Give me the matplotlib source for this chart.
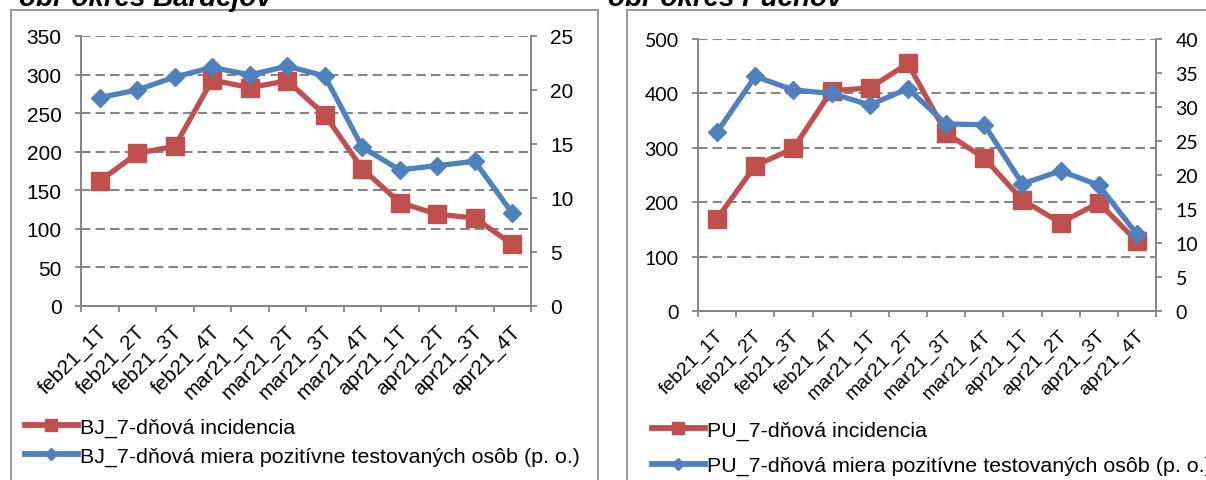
import matplotlib
matplotlib.use("Agg")
import matplotlib.pyplot as plt
import matplotlib.transforms as mtransforms
from matplotlib.lines import Line2D
from matplotlib.patches import Rectangle

plt.rcParams.update({
    "font.family": ["Liberation Sans", "DejaVu Sans"],
    "figure.facecolor": "white",
    "axes.facecolor": "white",
})

RED = "#C0504D"
BLUE = "#4F81BD"
GREY = "#868686"

weeks = ["feb21_1T", "feb21_2T", "feb21_3T", "feb21_4T",
         "mar21_1T", "mar21_2T", "mar21_3T", "mar21_4T",
         "apr21_1T", "apr21_2T", "apr21_3T", "apr21_4T"]

# okres Bardejov
bj_incidence = [162, 198, 207, 293, 283, 292, 248, 178, 134, 119, 114, 80]
bj_positivity = [19.3, 20.0, 21.2, 22.1, 21.4, 22.2, 21.3, 14.7, 12.6, 13.0, 13.4, 8.6]

# okres Púchov
pu_incidence = [170, 267, 299, 405, 410, 455, 327, 281, 204, 162, 199, 128]
pu_positivity = [26.3, 34.5, 32.5, 32.0, 30.3, 32.7, 27.5, 27.4, 18.7, 20.6, 18.5, 11.3]

W, H = 1206, 481


def px_rect(x0, y0, x1, y1):
    """Axes rectangle from pixel corners (top-left origin)."""
    return [x0 / W, 1 - y1 / H, (x1 - x0) / W, (y1 - y0) / H]


def draw_panel(fig, rect, incidence, positivity, left_max, left_step,
               right_max, right_step, xfont, yfont, yfamily, label_shift):
    ax = fig.add_axes(rect)
    ax2 = ax.twinx()
    x = range(len(weeks))

    ax.plot(x, incidence, color=RED, lw=3.8, marker="s", markersize=13.5,
            zorder=3)
    ax2.plot(x, positivity, color=BLUE, lw=3.8, marker="D", markersize=9.5,
             zorder=3)

    ax.set_xlim(-0.5, len(weeks) - 0.5)
    ax.set_ylim(0, left_max)
    ax2.set_ylim(0, right_max)
    ax.set_yticks(range(0, left_max + 1, left_step))
    ax2.set_yticks(range(0, right_max + 1, right_step))

    # dashed gridlines for the primary axis, skipping the baseline
    for v in range(left_step, left_max + 1, left_step):
        ax.axhline(v, color=GREY, lw=1.5, ls=(0, (4.5, 2.5)), zorder=1)

    # category labels centred, tick marks on the boundaries
    ax.set_xticks(list(x))
    ax.set_xticklabels(weeks, rotation=45, ha="right", rotation_mode="anchor",
                       fontsize=xfont)
    ax.set_xticks([i - 0.5 for i in range(len(weeks) + 1)], minor=True)
    ax.tick_params(axis="x", which="major", length=0, pad=11)
    ax.tick_params(axis="x", which="minor", length=4, color=GREY, width=1.3)
    shift = mtransforms.ScaledTranslation(label_shift / 100, 0, fig.dpi_scale_trans)
    for lbl in ax.get_xticklabels():
        lbl.set_transform(lbl.get_transform() + shift)

    for a in (ax, ax2):
        a.tick_params(axis="y", length=4, color=GREY, width=1.3,
                      labelsize=yfont, pad=10)
        for lbl in a.get_yticklabels():
            lbl.set_family(yfamily)
        a.spines["top"].set_visible(False)
        for s in ("left", "right", "bottom"):
            a.spines[s].set_color(GREY)
            a.spines[s].set_linewidth(1.4)
    ax2.set_zorder(ax.get_zorder() + 1)
    return ax, ax2


fig = plt.figure(figsize=(W / 100, H / 100), dpi=100)

# chart frames
fig.patches.append(Rectangle((11 / W, -0.1), 587 / W, 1.1 - 11 / H,
                             transform=fig.transFigure, fill=False,
                             edgecolor=GREY, lw=1.2))
fig.patches.append(Rectangle((627 / W, -0.1), 0.6, 1.1 - 11 / H,
                             transform=fig.transFigure, fill=False,
                             edgecolor=GREY, lw=1.2))

fig.text(272 / W, 1 - 6 / H, "obr okres Bardejov", ha="right",
         va="baseline", fontsize=20, fontweight="bold", fontstyle="italic")
fig.text(608 / W, 1 - 6 / H, "obr okres Púchov", ha="left",
         va="baseline", fontsize=20, fontweight="bold", fontstyle="italic")

draw_panel(fig, px_rect(81, 37, 531, 307), bj_incidence, bj_positivity,
           350, 50, 25, 5, 15, 15, ["Liberation Sans", "DejaVu Sans"], -2)
draw_panel(fig, px_rect(698, 40, 1156, 312), pu_incidence, pu_positivity,
           500, 100, 40, 5, 14, 14, ["Lato", "DejaVu Sans"], -2)


def legend_handles():
    return [Line2D([], [], color=RED, lw=4.2, marker="s", markersize=8),
            Line2D([], [], color=BLUE, lw=4.2, marker="D", markersize=6)]


fig.legend(legend_handles(),
           ["BJ_7-dňová incidencia",
            "BJ_7-dňová miera pozitívne testovaných osôb (p. o.)"],
           loc="upper left", bbox_to_anchor=(14 / W, 1 - 408 / H),
           frameon=False, fontsize=15.4, handlelength=2.5, handletextpad=0.1,
           labelspacing=0.45, borderpad=0, numpoints=1)
fig.legend(legend_handles(),
           ["PU_7-dňová incidencia",
            "PU_7-dňová miera pozitívne testovaných osôb (p. o.)"],
           loc="upper left", bbox_to_anchor=(641 / W, 1 - 411 / H),
           frameon=False, fontsize=15.4, handlelength=2.5, handletextpad=0.1,
           labelspacing=0.75, borderpad=0, numpoints=1)

fig.savefig("out.png", dpi=100)
